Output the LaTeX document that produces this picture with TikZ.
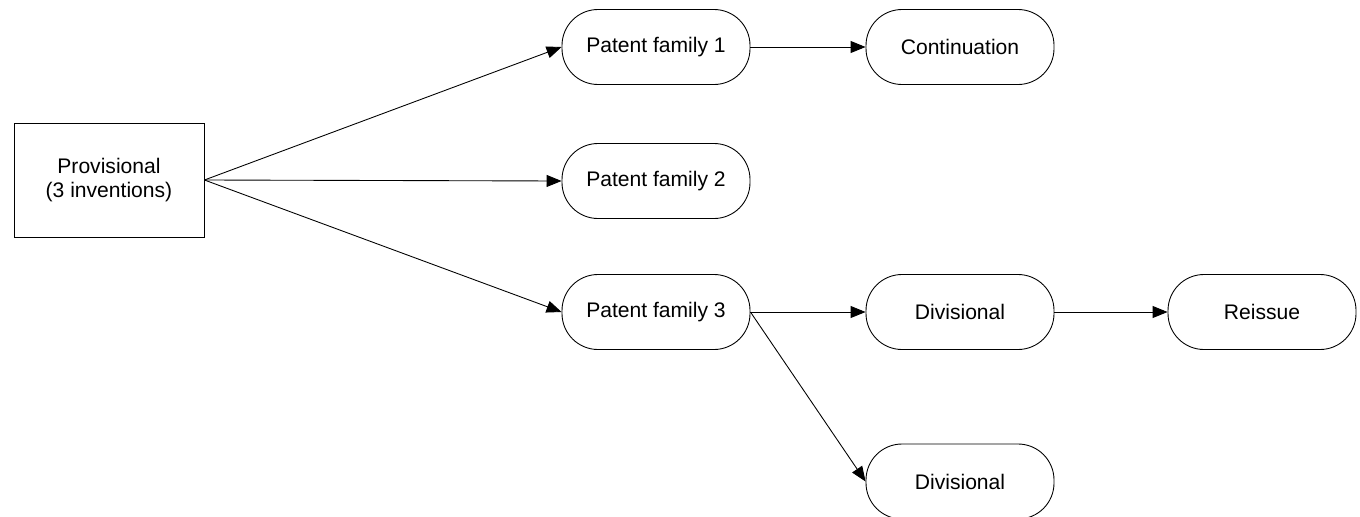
\documentclass[tikz,border=0pt]{standalone}
\usepackage{fontspec}
\setmainfont{Liberation Sans}
\usepackage{tikz}
\usetikzlibrary{arrows.meta}
\tikzset{box/.style={draw, line width=0.5pt, minimum width=3.8cm, minimum height=2.28cm, align=center, font=\fontsize{12}{13.8}\selectfont}}
\tikzset{pill/.style={draw, line width=0.5pt, rounded corners=0.72cm, minimum width=3.76cm, minimum height=1.5cm, font=\fontsize{12}{14}\selectfont}}

\begin{document}
\begin{tikzpicture}[>={Triangle[length=0.3cm,width=0.24cm]}, line width=0.5pt]
\useasboundingbox (0,0) rectangle (27.2,10.32);
\node[box] (prov) at (2.18,6.72) {Provisional\\(3 inventions)};
\node[pill] (fam1) at (13.12,9.38) {Patent family 1};
\node[pill] (fam2) at (13.12,6.70) {Patent family 2};
\node[pill] (fam3) at (13.12,4.08) {Patent family 3};
\node[pill] (cont) at (19.2,9.38) {Continuation};
\node[pill] (div1) at (19.2,4.08) {Divisional};
\node[pill] (reis) at (25.24,4.08) {Reissue};
\node[pill] (div2) at (19.2,0.69) {Divisional};
\draw[->] (prov.east) -- (fam1.west);
\draw[->] (prov.east) -- (fam2.west);
\draw[->] (prov.east) -- (fam3.west);
\draw[->] (fam1.east) -- (cont.west);
\draw[->] (fam3.east) -- (div1.west);
\draw[->] (div1.east) -- (reis.west);
\draw[->] (fam3.east) -- (div2.west);
\end{tikzpicture}
\end{document}
